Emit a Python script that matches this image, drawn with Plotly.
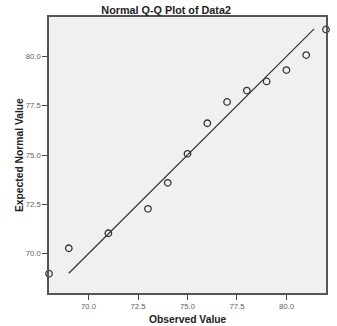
import plotly.graph_objects as go

observed = [68, 69, 71, 73, 74, 75, 76, 77, 78, 79, 80, 81, 82]
expected = [68.98, 70.27, 71.03, 72.27, 73.59, 75.06, 76.61, 77.69, 78.27, 78.73, 79.31, 80.07, 81.37]
line_x = [69.0, 81.4]
line_y = [69.0, 81.4]
tick_vals = [70.0, 72.5, 75.0, 77.5, 80.0]
tick_text = ["70.0", "72.5", "75.0", "77.5", "80.0"]

fig = go.Figure()
fig.add_trace(go.Scatter(x=line_x, y=line_y, mode="lines",
                         line=dict(color="#333333", width=1.2), showlegend=False, hoverinfo="skip"))
fig.add_trace(go.Scatter(x=observed, y=expected, mode="markers",
                         marker=dict(symbol="circle-open", size=6.5, color="#333333",
                                     line=dict(width=1.3, color="#333333")),
                         showlegend=False, cliponaxis=False))

axis_common = dict(
    tickvals=tick_vals, ticktext=tick_text, ticks="outside", ticklen=5, tickwidth=1,
    tickcolor="#444444", showgrid=False, zeroline=False, showline=True, linecolor="#555555",
    linewidth=1.5, mirror=True, tickfont=dict(family="Liberation Sans, Arial", size=7.7, color="#606060"),
    range=[68, 82], automargin=False,
)
title_font = dict(family="Liberation Sans, Arial", size=10.3, color="#222222")
fig.update_layout(
    width=337, height=326,
    margin=dict(l=49, r=11, t=17, b=33, autoexpand=False),
    paper_bgcolor="white", plot_bgcolor="#f0f0f0",
    title=dict(text="<b>Normal Q-Q Plot of Data2</b>", x=0.493, xref="container", xanchor="center",
               yref="container", y=0.969, yanchor="middle", automargin=False,
               font=dict(family="Liberation Sans, Arial", size=10.8, color="#222222")),
    xaxis=dict(axis_common),
    yaxis=dict(axis_common),
    annotations=[
        dict(text="<b>Expected Normal Value</b>", textangle=-90, xref="paper", yref="paper",
             x=-0.108, y=0.5, xanchor="center", yanchor="middle", showarrow=False, font=title_font),
        dict(text="<b>Observed Value</b>", xref="paper", yref="paper",
             x=0.5, y=-0.096, xanchor="center", yanchor="middle", showarrow=False, font=title_font),
    ],
)
fig.write_html("out.html")
